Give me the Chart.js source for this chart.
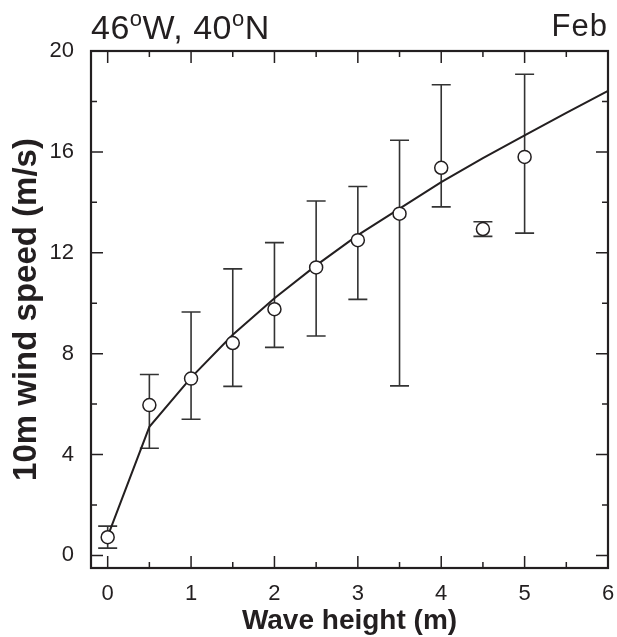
<!DOCTYPE html>
<html>
<head>
<meta charset="utf-8">
<script src="https://cdn.jsdelivr.net/npm/chart.js@4.4.0/dist/chart.umd.min.js"></script>
<style>
  html, body { margin: 0; padding: 0; background: #fff; }
  #wrap { position: relative; width: 617px; height: 637px; }
  .hdr { position: absolute; font-family: 'Liberation Sans', Arial, sans-serif;
         line-height: 40px; color: #231f20; white-space: nowrap; }
  .deg { font-size: 22px; position: relative; top: -13px; }
  #left { left: 91px; top: 6.5px; font-size: 34px; letter-spacing: 0.5px; }
  #right { right: 9px; top: 6px; font-size: 31px; letter-spacing: 1px; }
</style>
</head>
<body>
<div id="wrap">
  <canvas id="windChart" width="617" height="637"></canvas>
  <div class="hdr" id="left">46<span class="deg">o</span>W, 40<span class="deg">o</span>N</div>
  <div class="hdr" id="right">Feb</div>
</div>
<script>
// observed wave heights and mean wind speed with error range
const heights = [0, 0.5, 1, 1.5, 2, 2.5, 3, 3.5, 4, 4.5, 5];
const windMean = [0.72, 5.96, 7.01, 8.42, 9.76, 11.42, 12.5, 13.55, 15.37, 12.94, 15.8];
const errLow = [0.29, 4.25, 5.4, 6.7, 8.25, 8.7, 10.15, 6.72, 13.82, 12.65, 12.78];
const errHigh = [1.16, 7.17, 9.65, 11.36, 12.4, 14.05, 14.63, 16.46, 18.66, 13.23, 19.08];

// fitted curve
const fitX = [0, 0.5, 1, 1.5, 2, 2.5, 3, 3.5, 4, 4.5, 5, 5.5, 6];
const fitY = [0.75, 5.1, 7.05, 8.75, 10.2, 11.5, 12.7, 13.75, 14.8, 15.75, 16.65, 17.55, 18.42];

// ticks
const xMajor = [0, 1, 2, 3, 4, 5, 6];
const xMinor = [0.5, 1.5, 2.5, 3.5, 4.5, 5.5];
const yMajor = [0, 4, 8, 12, 16, 20];
const yMinor = [2, 6, 10, 14, 18];

const ink = '#231f20';

Chart.defaults.font.family = "'Liberation Sans', Arial, sans-serif";
Chart.defaults.color = ink;

const framePlugin = {
  id: 'framePlugin',
  beforeDatasetsDraw(chart) {
    const { ctx, scales: { x, y } } = chart;
    ctx.save();
    ctx.strokeStyle = '#333';
    ctx.lineWidth = 1.6;
    heights.forEach((h, i) => {
      const px = x.getPixelForValue(h);
      const lo = y.getPixelForValue(errLow[i]);
      const hi = y.getPixelForValue(errHigh[i]);
      ctx.beginPath();
      ctx.moveTo(px, lo); ctx.lineTo(px, hi);
      ctx.moveTo(px - 9.5, lo); ctx.lineTo(px + 9.5, lo);
      ctx.moveTo(px - 9.5, hi); ctx.lineTo(px + 9.5, hi);
      ctx.stroke();
    });
    ctx.restore();
  },
  afterDraw(chart) {
    const { ctx, chartArea: a, scales: { x, y } } = chart;
    ctx.save();
    ctx.strokeStyle = ink;
    ctx.lineWidth = 1.5;
    ctx.beginPath();
    const tickX = (v, len) => {
      const px = x.getPixelForValue(v);
      ctx.moveTo(px, a.bottom); ctx.lineTo(px, a.bottom - len);
      ctx.moveTo(px, a.top); ctx.lineTo(px, a.top + len);
    };
    const tickY = (v, len) => {
      const py = y.getPixelForValue(v);
      ctx.moveTo(a.left, py); ctx.lineTo(a.left + len, py);
      ctx.moveTo(a.right, py); ctx.lineTo(a.right - len, py);
    };
    xMajor.forEach(v => tickX(v, 12));
    xMinor.forEach(v => tickX(v, 6));
    yMajor.forEach(v => tickY(v, 12));
    yMinor.forEach(v => tickY(v, 6));
    ctx.stroke();
    ctx.lineWidth = 2.2;
    ctx.strokeRect(a.left, a.top, a.right - a.left, a.bottom - a.top);
    ctx.restore();
  }
};

new Chart(document.getElementById('windChart'), {
  type: 'scatter',
  data: {
    datasets: [
      {
        data: heights.map((h, i) => ({ x: h, y: windMean[i] })),
        pointRadius: 6.5,
        pointBackgroundColor: '#fff',
        pointBorderColor: ink,
        pointBorderWidth: 1.5
      },
      {
        data: fitX.map((h, i) => ({ x: h, y: fitY[i] })),
        showLine: true,
        borderColor: ink,
        borderWidth: 2,
        pointRadius: 0,
        tension: 0
      }
    ]
  },
  options: {
    responsive: false,
    devicePixelRatio: 1,
    animation: false,
    layout: { padding: { top: 51, right: 9, bottom: 0, left: 0 } },
    plugins: { legend: { display: false }, tooltip: { enabled: false } },
    scales: {
      x: {
        type: 'linear',
        min: -0.2,
        max: 6,
        afterBuildTicks: s => { s.ticks = xMajor.map(v => ({ value: v })); },
        afterFit: s => { s.height = 69; s.paddingLeft = 0; s.paddingRight = 0; },
        grid: { display: false, drawTicks: false },
        border: { display: false },
        ticks: { font: { size: 22 }, padding: 13, autoSkip: false, maxRotation: 0 },
        title: {
          display: true,
          text: 'Wave height (m)',
          font: { size: 28, weight: 'bold', lineHeight: 1 },
          padding: { top: 0, bottom: 1.5 }
        }
      },
      y: {
        type: 'linear',
        min: -0.5,
        max: 20,
        afterBuildTicks: s => { s.ticks = yMajor.map(v => ({ value: v })); },
        afterFit: s => { s.width = 91; s.paddingTop = 0; s.paddingBottom = 0; },
        grid: { display: false, drawTicks: false },
        border: { display: false },
        ticks: { font: { size: 22 }, padding: 17, autoSkip: false },
        title: {
          display: true,
          text: '10m wind speed (m/s)',
          font: { size: 33, weight: 'bold', lineHeight: 1 },
          padding: { top: 10, bottom: 0 }
        }
      }
    }
  },
  plugins: [framePlugin]
});
</script>
</body>
</html>
